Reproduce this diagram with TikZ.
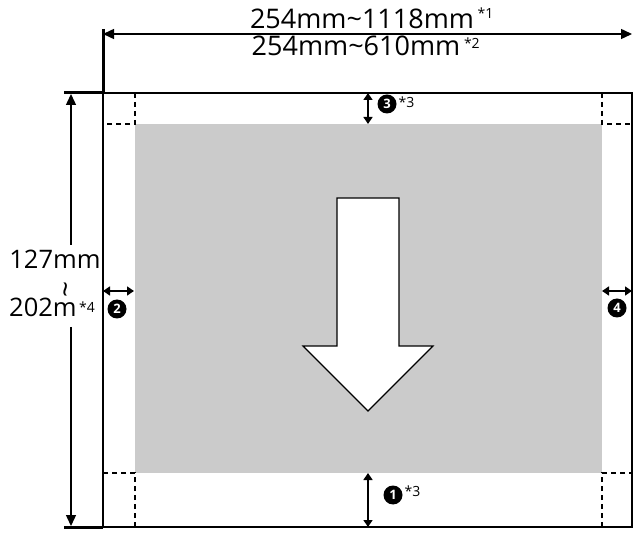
\documentclass[tikz,border=0pt]{standalone}
\usepackage{fontspec}
\setmainfont{Open Sans}
\usetikzlibrary{arrows.meta}
\definecolor{printgray}{RGB}{203,203,203}
\begin{document}
\begin{tikzpicture}[x=1pt,y=-1pt,
  dimline/.style={line width=1.4pt,{Triangle[length=11pt,width=10pt]}-{Triangle[length=11pt,width=10pt]}},
  markarrow/.style={line width=1.4pt,{Triangle[length=7pt,width=9pt]}-{Triangle[length=7pt,width=9pt]}},
  tickline/.style={line width=3pt},
  borderline/.style={line width=1.5pt},
  marginline/.style={line width=1.1pt,dash pattern=on 5pt off 4pt},
  bigtext/.style={font=\fontsize{27}{30}\selectfont,inner sep=1pt},
  sidetext/.style={font=\fontsize{25.5}{28}\selectfont,inner sep=1pt},
  startext/.style={font=\fontsize{14}{15}\selectfont,inner sep=0pt},
  circnum/.style={circle,fill=black,text=white,inner sep=0pt,minimum size=19pt,font=\fontsize{13}{13}\selectfont\bfseries}
]
\useasboundingbox (0,0) rectangle (640,534);
% paper corners
\coordinate (TL) at (103,93);
\coordinate (TR) at (632,93);
\coordinate (BL) at (103,527);
\coordinate (BR) at (632,527);
% printable area
\fill[printgray] (135,124) rectangle (602,473);
% paper border
\draw[borderline] (TL) -- (TR) -- (BR) -- (BL) -- cycle;
% margin dashed lines
\draw[marginline] (135,93) -- (135,124) -- (103,124);
\draw[marginline] (602,93) -- (602,124) -- (632,124);
\draw[marginline] (135,527) -- (135,473) -- (103,473);
\draw[marginline] (602,527) -- (602,473) -- (632,473);
% big feed arrow
\draw[line width=1.2pt,fill=white] (337,198) -- (399,198) -- (399,346) -- (433,346)
  -- (368,411) -- (303,346) -- (337,346) -- cycle;
% top width dimension
\coordinate (wTop) at (103,29);
\coordinate (wL) at (103,34);
\coordinate (wR) at (632,34);
\draw[tickline] (wTop) -- (TL);
\draw[dimline] (wL) -- (wR);
\node[bigtext,fill=white,anchor=base] (w1) at (362,29) {254mm\textasciitilde1118mm};
\node[startext,anchor=north west] (s1) at ([yshift=1pt]w1.north east) {\,*1};
\node[bigtext,anchor=base] (w2) at (356,56) {254mm\textasciitilde610mm};
\node[startext,anchor=north west] (s2) at ([yshift=-2pt]w2.north east) {\,*2};
% left length dimension
\coordinate (hT) at (64,93);
\coordinate (hB) at (64,527);
\draw[tickline] (hT) -- (TL);
\draw[tickline] (hB) -- (BL);
\coordinate (hA) at (71,94);
\coordinate (hZ) at (71,526);
\coordinate (hG1) at (71,245);
\coordinate (hG2) at (71,327);
\draw[line width=1.4pt,-{Triangle[length=11pt,width=10pt]}] (hG1) -- (hA);
\draw[line width=1.4pt,-{Triangle[length=11pt,width=10pt]}] (hG2) -- (hZ);
\node[sidetext,anchor=base] (l1) at (55,269) {127mm};
\node[font=\fontsize{28}{28}\selectfont,rotate=90,inner sep=0pt] (l2) at (70,289) {\textasciitilde};
\node[sidetext,anchor=base west] (l3) at (8,317) {202m};
\node[startext,anchor=west] (s4) at (79,307) {*4};
% margin 3 (top)
\coordinate (m3a) at (368,93);
\coordinate (m3b) at (368,124);
\draw[markarrow] (m3a) -- (m3b);
\node[circnum] (c3) at (387,104) {3};
\node[startext,anchor=west] (s3) at (396,102) {\,*3};
% margin 1 (bottom)
\coordinate (m1a) at (368,473);
\coordinate (m1b) at (368,527);
\draw[markarrow] (m1a) -- (m1b);
\node[circnum] (c1) at (393,495) {1};
\node[startext,anchor=west] (s1b) at (402,491) {\,*3};
% margin 2 (left)
\coordinate (m2a) at (103,291);
\coordinate (m2b) at (134,291);
\draw[markarrow] (m2a) -- (m2b);
\node[circnum] (c2) at (117,309) {2};
% margin 4 (right)
\coordinate (m4a) at (602,291);
\coordinate (m4b) at (632,291);
\draw[markarrow] (m4a) -- (m4b);
\node[circnum] (c4) at (617,308) {4};
\end{tikzpicture}
\end{document}
